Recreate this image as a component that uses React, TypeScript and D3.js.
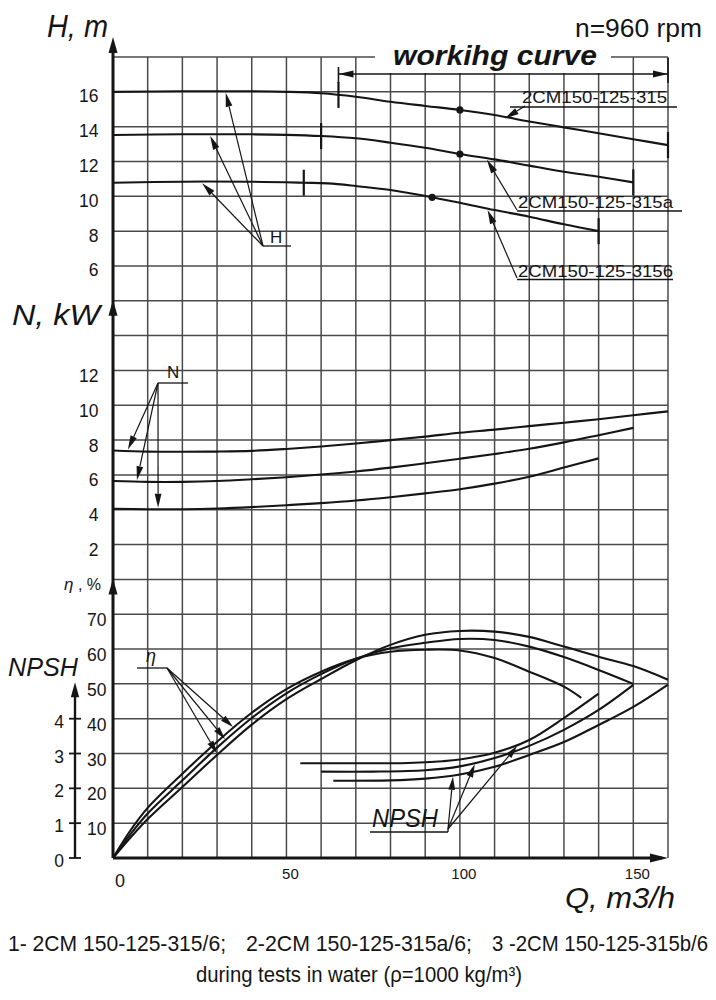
import React from 'react';
import * as d3 from 'd3';

type Pt = [number, number];

// ---------- axis tick values ----------
const qTicks = [0, 50, 100, 150];
const hTicks = [16, 14, 12, 10, 8, 6];
const nTicks = [12, 10, 8, 6, 4, 2];
const etaTicks = [70, 60, 50, 40, 30, 20, 10];
const npshTicks = [4, 3, 2, 1, 0];

// ---------- texts ----------
const modelLabels = ['2CM150-125-315', '2CM150-125-315a', '2CM150-125-3156'];
const captionParts = ['1- 2CM 150-125-315/6;', '2-2CM 150-125-315a/6;', '3 -2CM 150-125-315b/6'];
const captionLine2 = 'during tests in water (ρ=1000 kg/m³)';

// ---------- head H (m) vs Q (m3/h) ----------
const head1: Pt[] = [[0, 16.0], [20, 16.03], [40, 16.03], [50, 16.0], [60, 15.92], [70, 15.72], [80, 15.43], [90, 15.19], [100, 14.96], [110, 14.67], [120, 14.3], [130, 13.96], [140, 13.62], [150, 13.28], [160, 12.94]];
const head2: Pt[] = [[0, 13.52], [20, 13.56], [40, 13.56], [50, 13.53], [60, 13.46], [70, 13.33], [80, 13.08], [90, 12.79], [100, 12.43], [110, 12.12], [120, 11.76], [130, 11.41], [140, 11.12], [150, 10.8]];
const head3: Pt[] = [[0, 10.78], [20, 10.84], [40, 10.84], [55, 10.78], [62, 10.74], [70, 10.59], [80, 10.36], [90, 10.02], [100, 9.63], [110, 9.21], [120, 8.83], [130, 8.39], [140, 8.0]];
const workRange: Pt[] = [[65, 160], [60, 150], [55, 140]];
const bestPointQ = [100, 100, 92];
const workingCurveQ: Pt = [65, 160];

// ---------- power N (kW) ----------
const power1: Pt[] = [[0, 7.4], [10, 7.34], [20, 7.33], [30, 7.34], [40, 7.38], [50, 7.49], [60, 7.63], [70, 7.8], [80, 8.0], [90, 8.2], [100, 8.42], [110, 8.6], [120, 8.8], [130, 9.0], [140, 9.2], [150, 9.43], [160, 9.65]];
const power2: Pt[] = [[0, 5.65], [10, 5.6], [20, 5.6], [30, 5.65], [40, 5.75], [50, 5.87], [60, 6.02], [70, 6.2], [80, 6.42], [90, 6.67], [100, 6.93], [110, 7.2], [120, 7.5], [130, 7.87], [140, 8.28], [150, 8.7]];
const power3: Pt[] = [[0, 4.06], [10, 4.03], [20, 4.03], [30, 4.07], [40, 4.15], [50, 4.26], [60, 4.38], [70, 4.53], [80, 4.72], [90, 4.94], [100, 5.18], [110, 5.5], [120, 5.9], [130, 6.42], [140, 6.95]];

// ---------- efficiency η (%) ----------
const eff1: Pt[] = [[0, 0], [5, 5.8], [10, 11.2], [20, 20.4], [30, 29.6], [40, 38.3], [50, 45.6], [60, 51.4], [70, 56.8], [80, 61.2], [90, 64.1], [100, 65.2], [110, 65], [120, 63.5], [130, 60.7], [140, 57.8], [150, 55.1], [160, 51.2]];
const eff2: Pt[] = [[0, 0], [5, 6.8], [10, 12.8], [20, 22.3], [30, 31.7], [40, 40.2], [50, 47.3], [60, 52.8], [70, 57.2], [80, 60.2], [90, 61.8], [100, 62.9], [110, 62.6], [120, 60.7], [130, 57.7], [140, 54], [150, 50]];
const eff3: Pt[] = [[0, 0], [5, 7.9], [10, 14.4], [20, 24.2], [30, 33.4], [40, 41.7], [50, 48.5], [60, 53.5], [70, 57.2], [80, 59.2], [90, 59.8], [100, 59.6], [110, 57.4], [120, 53.5], [130, 49.2], [135, 46]];

// ---------- NPSH (m) ----------
const npsh1: Pt[] = [[63.5, 2.22], [80, 2.23], [90, 2.28], [100, 2.4], [110, 2.62], [120, 2.96], [130, 3.33], [140, 3.82], [150, 4.34], [160, 4.98]];
const npsh2: Pt[] = [[60, 2.48], [75, 2.48], [90, 2.52], [100, 2.63], [110, 2.87], [120, 3.22], [130, 3.68], [140, 4.25], [150, 4.97]];
const npsh3: Pt[] = [[54, 2.72], [70, 2.72], [85, 2.73], [95, 2.78], [100, 2.83], [110, 3.02], [120, 3.39], [130, 4.02], [140, 4.72]];

// leader targets (Q on the curve)
const headLeaderQ = [32.5, 28, 25.7];
const powerLeaderQ = [4.3, 6.9, 13];
const effLeaderQ = [30, 32.3, 34.6];
const npshLeaderQ = [98, 104.3, 116.5];
const modelLeaderQ = [113, 107.8, 108];

// ---------- layout ----------
const W = 716, HGT = 1000;
const X0 = 113, X1 = 668, Y0 = 57, Y1 = 858;
const S = (Y1 - Y0) / 23;
const FONT = "'Liberation Sans', Arial, Helvetica, sans-serif";
const INK = '#151515';
const GRID = '#4a4a4a';

const x = d3.scaleLinear().domain([0, 160]).range([X0, X1]);
const yH = d3.scaleLinear().domain([4, 18]).range([Y0 + 7 * S, Y0]);
const yN = d3.scaleLinear().domain([0, 16]).range([Y0 + 15 * S, Y0 + 7 * S]);
const yE = d3.scaleLinear().domain([0, 80]).range([Y1, Y0 + 15 * S]);
const yP = d3.scaleLinear().domain([0, 8]).range([Y1, Y0 + 15 * S]);

function at(data: Pt[], q: number): number {
  if (q <= data[0][0]) return data[0][1];
  for (let i = 1; i < data.length; i++) {
    if (q <= data[i][0]) {
      const [qa, va] = data[i - 1];
      const [qb, vb] = data[i];
      return va + ((q - qa) / (qb - qa)) * (vb - va);
    }
  }
  return data[data.length - 1][1];
}

function pathFor(data: Pt[], ys: d3.ScaleLinear<number, number>) {
  return d3.line<Pt>().x(d => x(d[0])).y(d => ys(d[1])).curve(d3.curveCatmullRom.alpha(0.5))(data) || '';
}

function Arrow({ x1, y1, x2, y2, len = 10, w = 3.2, sw = 1.2 }: { x1: number; y1: number; x2: number; y2: number; len?: number; w?: number; sw?: number }) {
  const a = Math.atan2(y2 - y1, x2 - x1);
  const bx = x2 - len * Math.cos(a), by = y2 - len * Math.sin(a);
  const px = -Math.sin(a) * w, py = Math.cos(a) * w;
  return (
    <g>
      <line x1={x1} y1={y1} x2={bx} y2={by} stroke={INK} strokeWidth={sw} />
      <polygon points={`${x2},${y2} ${bx + px},${by + py} ${bx - px},${by - py}`} fill={INK} />
    </g>
  );
}

function Head({ tx, ty, dir, len = 15, w = 4.5 }: { tx: number; ty: number; dir: number; len?: number; w?: number }) {
  const bx = tx - len * Math.cos(dir), by = ty - len * Math.sin(dir);
  const px = -Math.sin(dir) * w, py = Math.cos(dir) * w;
  return <polygon points={`${tx},${ty} ${bx + px},${by + py} ${bx - px},${by - py}`} fill={INK} />;
}

export default function App() {
  const heads = [head1, head2, head3];
  const powers = [power1, power2, power3];
  const effs = [eff1, eff2, eff3];
  const npshs = [npsh1, npsh2, npsh3];
  const gridQ = d3.range(10, 161, 10);
  const gridRows = d3.range(0, 23);

  const hLeaderO = { x: 263, y: 246 };
  const nLeaderO = { x: 158, y: 383 };
  const eLeaderO = { x: 167, y: 668 };
  const pLeaderO = { x: 448, y: 829 };

  const modelLayout = [
    { tx: 522, ty: 103, tl: 145, ux0: 510, ux1: 677, uy: 107, ox: 525, oy: 106 },
    { tx: 518, ty: 208, tl: 155, ux0: 517, ux1: 682, uy: 211, ox: 517, oy: 210 },
    { tx: 518, ty: 277, tl: 155, ux0: 517, ux1: 673, uy: 279.5, ox: 517, oy: 278 },
  ];

  const captionLayout = [
    { x: 8, tl: 218 },
    { x: 246, tl: 226 },
    { x: 492, tl: 216 },
  ];
  const capScaleY = 1.12;

  const tickFont = 17.5;

  return (
    <svg width={W} height={HGT} viewBox={`0 0 ${W} ${HGT}`} style={{ position: 'absolute', left: 0, top: 0, display: 'block', background: '#fff' }} fontFamily={FONT}>
      <rect x={0} y={0} width={W} height={HGT} fill="#fff" />
      {/* grid */}
      <g stroke={GRID} strokeWidth={1.5}>
        {gridQ.map(q => <line key={'v' + q} x1={x(q)} x2={x(q)} y1={Y0} y2={Y1} />)}
        {gridRows.map(k => <line key={'h' + k} x1={X0} x2={X1} y1={Y0 + k * S} y2={Y0 + k * S} />)}
      </g>
      {/* mask behind title */}
      <rect x={375} y={46} width={236} height={27} fill="#fff" />

      {/* main axes */}
      <line x1={X0} y1={Y1} x2={X0} y2={44} stroke={INK} strokeWidth={3} />
      <Head tx={X0} ty={37} dir={-Math.PI / 2} len={16} w={4.5} />
      <Head tx={X0} ty={yN(16) - 1} dir={-Math.PI / 2} len={16} w={4.5} />
      <Head tx={X0} ty={yE(80) - 1} dir={-Math.PI / 2} len={16} w={4.5} />
      <line x1={X0} y1={Y1} x2={X1 - 6} y2={Y1} stroke={INK} strokeWidth={3} />
      <Head tx={X1} ty={Y1} dir={0} len={18} w={4.5} />

      {/* NPSH secondary axis */}
      <line x1={75} y1={Y1} x2={75} y2={690} stroke={INK} strokeWidth={2.4} />
      <Head tx={75} ty={yP(5.05)} dir={-Math.PI / 2} len={15} w={4.2} />
      {npshTicks.map(t => (
        <g key={'pt' + t}>
          <line x1={69} x2={81} y1={yP(t)} y2={yP(t)} stroke={INK} strokeWidth={1.8} />
          <text x={64} y={yP(t) + 9} fontSize={tickFont} textAnchor="end" fill={INK}>{t}</text>
        </g>
      ))}

      {/* tick labels */}
      {hTicks.map(t => <text key={'h' + t} x={98.5} y={yH(t) + 10.5} fontSize={tickFont} textAnchor="end" fill={INK}>{t}</text>)}
      {nTicks.map(t => <text key={'n' + t} x={98.5} y={yN(t) + 11.5} fontSize={tickFont} textAnchor="end" fill={INK}>{t}</text>)}
      {etaTicks.map(t => <text key={'e' + t} x={106.5} y={yE(t) + 12} fontSize={tickFont} textAnchor="end" fill={INK}>{t}</text>)}
      {qTicks.map(t => (
        <text key={'q' + t} x={x(t) + (t === 0 ? 7 : 4)} y={t === 0 ? 887 : 879} fontSize={t === 0 ? 18 : 15} textAnchor="middle" fill={INK}>{t}</text>
      ))}

      {/* axis titles */}
      <text x={47} y={37} fontSize={31} fontStyle="italic" textLength={61} lengthAdjust="spacingAndGlyphs" fill={INK}>H, m</text>
      <text x={12} y={325} fontSize={30} fontStyle="italic" textLength={88} lengthAdjust="spacingAndGlyphs" fill={INK}>N, kW</text>
      <text x={8} y={676} fontSize={26} fontStyle="italic" textLength={70} lengthAdjust="spacingAndGlyphs" fill={INK}>NPSH</text>
      <text x={64} y={590} fontSize={16} fill={INK}><tspan fontStyle="italic" fontSize={17}>η</tspan> , %</text>
      <text x={565} y={908} fontSize={30} fontStyle="italic" textLength={110} lengthAdjust="spacingAndGlyphs" fill={INK}>Q, m3/h</text>
      <text x={575} y={37} fontSize={25} textLength={127} lengthAdjust="spacingAndGlyphs" fill={INK}>n=960 rpm</text>
      <text x={393} y={65} fontSize={28} fontWeight="bold" fontStyle="italic" textLength={204} lengthAdjust="spacingAndGlyphs" fill={INK}>workihg curve</text>

      {/* working curve dimension line */}
      <line x1={x(workingCurveQ[0])} x2={x(workingCurveQ[1])} y1={74} y2={74} stroke={INK} strokeWidth={1.5} />
      <Head tx={x(workingCurveQ[0])} ty={74} dir={Math.PI} len={15} w={3.6} />
      <Head tx={x(workingCurveQ[1])} ty={74} dir={0} len={15} w={3.6} />
      <line x1={x(workingCurveQ[0])} x2={x(workingCurveQ[0])} y1={67} y2={83} stroke={INK} strokeWidth={1.6} />
      <line x1={x(workingCurveQ[1])} x2={x(workingCurveQ[1])} y1={58} y2={83} stroke={INK} strokeWidth={1.6} />

      {/* H curves */}
      {heads.map((d, i) => (
        <g key={'H' + i}>
          <path d={pathFor(d, yH)} fill="none" stroke={INK} strokeWidth={2.1} />
          {workRange[i].map(q => (
            <line key={q} x1={x(q)} x2={x(q)} y1={yH(at(d, q)) - 13} y2={yH(at(d, q)) + 13} stroke={INK} strokeWidth={2.2} />
          ))}
          <circle cx={x(bestPointQ[i])} cy={yH(at(d, bestPointQ[i]))} r={3.6} fill={INK} />
        </g>
      ))}

      {/* N curves */}
      {powers.map((d, i) => <path key={'N' + i} d={pathFor(d, yN)} fill="none" stroke={INK} strokeWidth={2.1} />)}
      {/* η curves */}
      {effs.map((d, i) => <path key={'E' + i} d={pathFor(d, yE)} fill="none" stroke={INK} strokeWidth={2.1} />)}
      {/* NPSH curves */}
      {npshs.map((d, i) => <path key={'P' + i} d={pathFor(d, yP)} fill="none" stroke={INK} strokeWidth={2.1} />)}

      {/* H leader */}
      <text x={270} y={243} fontSize={17} fill={INK}>H</text>
      <line x1={hLeaderO.x} x2={291} y1={hLeaderO.y} y2={hLeaderO.y} stroke={INK} strokeWidth={1.3} />
      {heads.map((d, i) => (
        <Arrow key={'ha' + i} x1={hLeaderO.x} y1={hLeaderO.y} x2={x(headLeaderQ[i])} y2={yH(at(d, headLeaderQ[i])) + 1.5} len={14} w={3.4} />
      ))}

      {/* N leader */}
      <text x={167} y={378} fontSize={17} fill={INK}>N</text>
      <line x1={nLeaderO.x} x2={188} y1={nLeaderO.y} y2={nLeaderO.y} stroke={INK} strokeWidth={1.3} />
      {powers.map((d, i) => (
        <Arrow key={'na' + i} x1={nLeaderO.x} y1={nLeaderO.y} x2={x(powerLeaderQ[i])} y2={yN(at(d, powerLeaderQ[i])) - 1.5} len={14} w={3.4} />
      ))}

      {/* η leader */}
      <text x={146} y={662} fontSize={18} fontStyle="italic" fill={INK}>η</text>
      <line x1={137} x2={eLeaderO.x} y1={eLeaderO.y} y2={eLeaderO.y} stroke={INK} strokeWidth={1.3} />
      {effs.map((d, i) => (
        <Arrow key={'ea' + i} x1={eLeaderO.x} y1={eLeaderO.y} x2={x(effLeaderQ[i])} y2={yE(at(d, effLeaderQ[i])) - 1.5} len={13} w={3.4} />
      ))}

      {/* NPSH leader */}
      <text x={372} y={827} fontSize={25} fontStyle="italic" textLength={66} lengthAdjust="spacingAndGlyphs" fill={INK}>NPSH</text>
      <line x1={370} x2={pLeaderO.x} y1={832} y2={832} stroke={INK} strokeWidth={1.3} />
      <line x1={pLeaderO.x} x2={pLeaderO.x} y1={832} y2={pLeaderO.y} stroke={INK} strokeWidth={1.3} />
      {npshs.map((d, i) => (
        <Arrow key={'pa' + i} x1={pLeaderO.x} y1={pLeaderO.y} x2={x(npshLeaderQ[i])} y2={yP(at(d, npshLeaderQ[i])) + 1.5} len={13} w={3.4} />
      ))}

      {/* model labels */}
      {modelLabels.map((m, i) => {
        const L = modelLayout[i];
        return (
          <g key={'m' + i}>
            <text x={L.tx} y={L.ty} fontSize={17} textLength={L.tl} lengthAdjust="spacingAndGlyphs" fill={INK}>{m}</text>
            <line x1={L.ux0} x2={L.ux1} y1={L.uy} y2={L.uy} stroke={INK} strokeWidth={1.3} />
            <Arrow x1={L.ox} y1={L.oy} x2={x(modelLeaderQ[i])} y2={yH(at(heads[i], modelLeaderQ[i])) + 1.5} len={14} w={3.4} />
          </g>
        );
      })}

      {/* caption */}
      {captionParts.map((c, i) => (
        <g key={'c' + i} transform={`translate(${captionLayout[i].x},951) scale(1,${capScaleY})`}>
          <text x={0} y={0} fontSize={20} textLength={captionLayout[i].tl} lengthAdjust="spacingAndGlyphs" fill={INK}>{c}</text>
        </g>
      ))}
      <g transform={`translate(359,982) scale(1,${capScaleY})`}>
        <text x={0} y={0} fontSize={20} textAnchor="middle" textLength={326} lengthAdjust="spacingAndGlyphs" fill={INK}>{captionLine2}</text>
      </g>
    </svg>
  );
}
